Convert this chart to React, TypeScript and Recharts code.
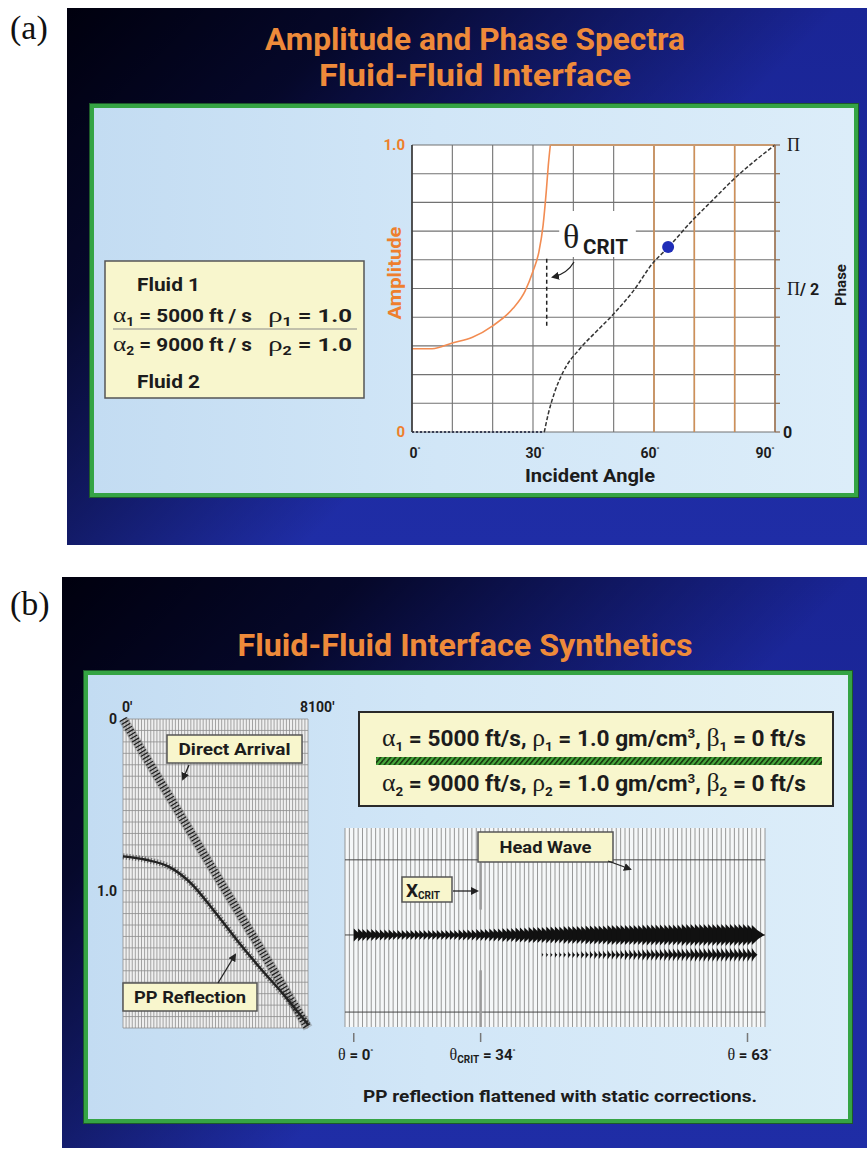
import React from "react"
import {
  ComposedChart,
  Line,
  Scatter,
  XAxis,
  YAxis,
  CartesianGrid,
  ReferenceLine,
  ReferenceArea,
} from "recharts"

const SANS = 'Roboto, "Liberation Sans", Arial, sans-serif'
const SERIF = '"Liberation Serif", "DejaVu Serif", serif'
const ORANGE = "#ee7f2d"
const INK = "#1c1c1c"

// ---------- (a) amplitude & phase vs incident angle ----------
const ampAngles = [0, 5, 10, 15, 20, 25, 28, 30, 31.5, 32.5, 33.3, 33.8, 34.3]
const ampValues = [0.29, 0.29, 0.31, 0.33, 0.37, 0.43, 0.49, 0.56, 0.63, 0.72, 0.84, 0.93, 1.0]
const totalAngles = [34.3, 90]
const totalValues = [1, 1]
const phaseFlatAngles = [0, 32.8]
const phaseFlatValues = [0, 0]
const phaseAngles = [32.8, 33.8, 35.4, 37.5, 41.6, 45.7, 49.9, 54.8, 59.8, 63.3, 69.7, 74.7, 79.7, 84.6, 90]
// phase in units of pi
const phaseValues = [0, 0.064, 0.14, 0.21, 0.29, 0.35, 0.41, 0.49, 0.59, 0.64, 0.74, 0.81, 0.88, 0.94, 1.0]
const markerAngles = [63.5]
const markerPhases = [0.645]
const critAngle = 33.4
const angleTicks = [0, 10, 20, 30, 40, 50, 60, 70, 80, 90]
const angleLabels = [0, 30, 60, 90]
const angleLabelShift = [3, 2, -4, -10]
const orangeGrid = [60, 70, 80]
const ampTicks = [0, 0.1, 0.2, 0.3, 0.4, 0.5, 0.6, 0.7, 0.8, 0.9, 1]
const phaseTickValues = [0, 0.5, 1]

// ---------- (b) left: offset / time plot ----------
const directOffset = [0, 8100]
const directTime = [0, 1.8]
const ppOffset = [0, 1000, 2000, 3000, 4000, 5000, 6000, 7000, 8100]
const ppTime = [0.8, 0.82, 0.86, 0.96, 1.12, 1.29, 1.45, 1.6, 1.78]
const offsetTicks = Array.from({ length: 61 }, (_, i) => i * 135)
const timeTicks = Array.from({ length: 28 }, (_, i) => i / 15)

// ---------- (b) right: flattened traces ----------
const reflectionT = 107.5
const headT = 127.5
const timeLines = [32, 107.5, 185]
// half-height of the filled lobe on each trace (ms)
const reflectionAmp = [
  6.5, 6.5, 6, 6, 6, 5.5, 5.5, 5.5, 5.5, 5,
  5, 5, 5, 5, 5, 5, 5, 5, 5, 5,
  5, 5, 5, 5, 5.5, 5.5, 5.5, 5.5, 6, 6,
  6, 6.5, 6.5, 6.5, 7, 7, 7, 7.5, 7.5, 7.5,
  8, 8, 8, 8, 8.5, 8.5, 8.5, 8.5, 9, 9,
  9, 9, 9, 9.5, 9.5, 9.5, 9.5, 9.5, 10, 10,
  10, 10, 10, 10, 10, 10, 10.5, 10.5, 10.5, 10.5,
  10.5, 10.5, 10.5, 10.5, 10.5, 11, 11, 11, 11, 11,
  11, 11, 11, 11, 11, 11, 11, 11, 11, 11,
  10.5, 10,
]
const headStart = 43
const headAmp = [
  2, 2.5, 2.5, 3, 3, 3, 3.5, 3.5, 3.5, 4,
  4, 4, 4.5, 4.5, 4.5, 5, 5, 5, 5, 5.5,
  5.5, 5.5, 5.5, 6, 6, 6, 6, 6, 6.5, 6.5,
  6.5, 6.5, 6.5, 6.5, 7, 7, 7, 7, 7, 7,
  7, 7, 7, 7, 7, 7, 7, 7, 7,
]
const traceTicks = Array.from({ length: 95 }, (_, i) => i - 1)
const thetaTraces = [0, 29, 90]
const thetaNames = ["0", "34", "63"]

const zip = (xs: number[], ys: number[], kx: string, ky: string) =>
  xs.map((x, i) => ({ [kx]: x, [ky]: ys[i] }))

const ampData = zip(ampAngles, ampValues, "angle", "amp")
const totalData = zip(totalAngles, totalValues, "angle", "amp")
const phaseFlatData = zip(phaseFlatAngles, phaseFlatValues, "angle", "phase")
const phaseData = zip(phaseAngles, phaseValues, "angle", "phase")
const markerData = zip(markerAngles, markerPhases, "angle", "phase")
const directData = zip(directOffset, directTime, "ft", "t")
const ppData = zip(ppOffset, ppTime, "ft", "t")
const reflectionData = reflectionAmp.map((a, i) => ({ trace: i, t: reflectionT, amp: a, w: 1.3 }))
const headData = headAmp.map((a, i) => ({ trace: headStart + i, t: headT, amp: a, w: 0.8 }))

const bold = (size: number) => ({ fontFamily: SANS, fontWeight: 700, fontSize: size })
const greek = (size: number) => ({ fontFamily: SERIF, fontWeight: 400, fontSize: size })

function AngleTick(props: any) {
  const { x, y, payload } = props
  const k = angleLabels.indexOf(payload.value)
  if (k < 0) return <g />
  return (
    <text x={x + angleLabelShift[k]} y={y + 26} textAnchor="middle" fill={INK} style={bold(14)}>
      {payload.value}
      <tspan fontSize={8} dy={-6}>°</tspan>
    </text>
  )
}

function AmpTick(props: any) {
  const { x, y, payload } = props
  const v = payload.value
  const label = v === 0 ? "0" : Math.abs(v - 1) < 1e-6 ? "1.0" : ""
  if (!label) return <g />
  return (
    <text x={x - 7} y={y + 5} textAnchor="end" fill={ORANGE} style={bold(15)}>
      {label}
    </text>
  )
}

function PhaseTick(props: any) {
  const { x, y, payload } = props
  const k = phaseTickValues.findIndex((p) => Math.abs(p - payload.value) < 1e-6)
  return (
    <g>
      <line x1={x} y1={y} x2={x + 5} y2={y} stroke="#8a6a50" strokeWidth={1.2} />
      {k === 0 && (
        <text x={x + 8} y={y + 6} fill={INK} style={bold(16)}>0</text>
      )}
      {k === 1 && (
        <text x={x + 12} y={y + 6} fill={INK} style={bold(16)}>
          <tspan style={greek(18)}>Π</tspan>/ 2
        </text>
      )}
      {k === 2 && (
        <text x={x + 12} y={y + 6} fill={INK} style={greek(18)}>Π</text>
      )}
    </g>
  )
}

function OffsetTick(props: any) {
  const { x, y, payload } = props
  if (payload.value === 0)
    return <text x={x - 1} y={y - 7} fill={INK} style={bold(14)}>0'</text>
  if (payload.value === 8100)
    return <text x={x - 8} y={y - 7} fill={INK} style={bold(14)}>8100'</text>
  return <g />
}

function TimeTick(props: any) {
  const { x, y, payload } = props
  const v = payload.value
  const label = v === 0 ? "0" : Math.abs(v - 1) < 1e-6 ? "1.0" : ""
  if (!label) return <g />
  return (
    <text x={x - 6} y={y + 5} textAnchor="end" fill={INK} style={bold(14)}>
      {label}
    </text>
  )
}

function ThetaTick(props: any) {
  const { x, y, payload } = props
  const k = thetaTraces.indexOf(payload.value)
  if (k < 0) return <g />
  return (
    <g>
      <line x1={x} y1={y + 6} x2={x} y2={y + 15} stroke="#777" strokeWidth={1.5} />
      <text x={x + 2} y={y + 33} textAnchor="middle" fill={INK} style={bold(15)}>
        <tspan style={greek(16)}>θ</tspan>
        {k === 1 && <tspan fontSize={10} dy={3}>CRIT</tspan>}
        <tspan dy={k === 1 ? -3 : 0}>{` = ${thetaNames[k]}`}</tspan>
        <tspan fontSize={8} dy={-6}>°</tspan>
      </text>
    </g>
  )
}

function BlueDot(props: any) {
  return <circle cx={props.cx} cy={props.cy} r={6} fill="#1f2db8" />
}

// the y axis of the trace plot maps about one ms per pixel
const PX_PER_MS = 0.995

function Lobe(props: any) {
  const { cx, cy, payload } = props
  const h = payload.amp * PX_PER_MS
  const w = h * payload.w
  return <path d={`M${cx},${cy - h} Q${cx + w * 0.45},${cy - h * 0.35} ${cx + w},${cy} Q${cx + w * 0.45},${cy + h * 0.35} ${cx},${cy + h} Z`} fill="#111" />
}

const slideBg =
  "linear-gradient(135deg, rgba(0,0,14,1) 0%, rgba(0,0,14,0.8) 22%, rgba(0,0,14,0) 58%), linear-gradient(180deg, #1a2596 0%, #1f2da6 100%)"
const innerBg = "linear-gradient(90deg, #c3dcf2 0%, #d1e6f7 45%, #dcedf9 100%)"

function Box({ x, y, w, h }: { x: number; y: number; w: number; h: number }) {
  return <rect x={x} y={y} width={w} height={h} fill="#f8f6cd" stroke="#555" strokeWidth={1.5} />
}

function EquationLine({ y, n, speed }: { y: number; n: string; speed: string }) {
  return (
    <text x={382} y={y} textLength={424} lengthAdjust="spacingAndGlyphs" fill={INK} style={bold(22)}>
      <tspan style={greek(25)}>α</tspan>
      <tspan fontSize={13} dy={5}>{n}</tspan>
      <tspan dy={-5}>{` = ${speed} ft/s, `}</tspan>
      <tspan style={greek(25)}>ρ</tspan>
      <tspan fontSize={13} dy={5}>{n}</tspan>
      <tspan dy={-5}> = 1.0 gm/cm</tspan>
      <tspan fontSize={13} dy={-8}>3</tspan>
      <tspan dy={8}>, </tspan>
      <tspan style={greek(25)}>β</tspan>
      <tspan fontSize={13} dy={5}>{n}</tspan>
      <tspan dy={-5}> = 0 ft/s</tspan>
    </text>
  )
}

function FluidLine({ y, n, speed }: { y: number; n: string; speed: string }) {
  return (
    <g>
      <text x={113} y={y} textLength={139} lengthAdjust="spacingAndGlyphs" fill={INK} style={bold(18)}>
        <tspan style={greek(22)}>α</tspan>
        <tspan fontSize={12} dy={4}>{n}</tspan>
        <tspan dy={-4}>{` = ${speed} ft / s`}</tspan>
      </text>
      <text x={268} y={y} textLength={84} lengthAdjust="spacingAndGlyphs" fill={INK} style={bold(18)}>
        <tspan style={greek(22)}>ρ</tspan>
        <tspan fontSize={12} dy={4}>{n}</tspan>
        <tspan dy={-4}> = 1.0</tspan>
      </text>
    </g>
  )
}

export default function App() {
  return (
    <div style={{ position: "absolute", left: 0, top: 0, width: 867, height: 1152, background: "#fff", overflow: "hidden" }}>
      {/* slides */}
      <div style={{ position: "absolute", left: 67, top: 8, width: 800, height: 537, background: slideBg }} />
      <div style={{ position: "absolute", left: 62, top: 577, width: 805, height: 571, background: slideBg }} />
      <div
        style={{
          position: "absolute", left: 90, top: 104, width: 760, height: 385,
          background: innerBg, border: "4px solid #35a444", boxShadow: "0 0 0 1px #1d5a2a",
        }}
      />
      <div
        style={{
          position: "absolute", left: 84, top: 671, width: 760, height: 444,
          background: innerBg, border: "4px solid #35a444", boxShadow: "0 0 0 1px #1d5a2a",
        }}
      />

      {/* (a) chart */}
      <div style={{ position: "absolute", left: 360, top: 125 }}>
        <ComposedChart width={500} height={370} margin={{ top: 20, right: 25, bottom: 8, left: 12 }}>
          <CartesianGrid yAxisId="amp" stroke="#727272" strokeWidth={1.1} fill="#ffffff" />
          <XAxis
            type="number" dataKey="angle" domain={[0, 90]} ticks={angleTicks} interval={0} height={55}
            axisLine={false} tickLine={false} tickSize={0} tickMargin={0} tick={AngleTick}
          />
          <YAxis
            yAxisId="amp" type="number" dataKey="amp" domain={[0, 1]} ticks={ampTicks} interval={0} width={40}
            axisLine={{ stroke: "#333", strokeWidth: 1.5 }} tickLine={false} tickSize={0} tickMargin={0} tick={AmpTick}
          />
          <YAxis
            yAxisId="phase" orientation="right" type="number" dataKey="phase" domain={[0, 1]} ticks={ampTicks}
            interval={0} width={60} axisLine={{ stroke: "#a87a55", strokeWidth: 1.5 }} tickLine={false}
            tickSize={0} tickMargin={0} tick={PhaseTick}
          />
          {orangeGrid.map((a) => (
            <ReferenceLine key={a} yAxisId="amp" x={a} stroke="#cf9058" strokeWidth={1.6} />
          ))}
          <ReferenceArea yAxisId="amp" x1={36.5} x2={55.5} y1={0.61} y2={0.77} fill="#ffffff" fillOpacity={1} stroke="none" />
          <ReferenceLine
            yAxisId="amp" segment={[{ x: critAngle, y: 0.37 }, { x: critAngle, y: 0.61 }]}
            stroke="#222" strokeDasharray="4 3" strokeWidth={1.5}
          />
          <Line data={ampData} yAxisId="amp" dataKey="amp" type="monotone" stroke="#f28c52" strokeWidth={1.6} dot={false} isAnimationActive={false} />
          <Line data={totalData} yAxisId="amp" dataKey="amp" type="linear" stroke="#c99a70" strokeWidth={1.8} dot={false} isAnimationActive={false} />
          <Line data={phaseFlatData} yAxisId="phase" dataKey="phase" type="linear" stroke="#3a3f55" strokeDasharray="2 2" strokeWidth={2} dot={false} isAnimationActive={false} />
          <Line data={phaseData} yAxisId="phase" dataKey="phase" type="monotone" stroke="#333" strokeDasharray="4 2" strokeWidth={1.5} dot={false} isAnimationActive={false} />
          <Scatter data={markerData} yAxisId="phase" dataKey="phase" shape={BlueDot} isAnimationActive={false} />
        </ComposedChart>
      </div>

      {/* (b) left chart */}
      <div style={{ position: "absolute", left: 95, top: 690 }}>
        <ComposedChart width={262} height={350} margin={{ top: 4, right: 49, bottom: 12, left: 3 }}>
          <CartesianGrid stroke="#8e8e8e" strokeWidth={0.8} fill="#efefef" />
          <XAxis
            orientation="top" type="number" dataKey="ft" domain={[0, 8100]} ticks={offsetTicks} interval={0}
            height={25} axisLine={false} tickLine={false} tickSize={0} tickMargin={0} tick={OffsetTick}
          />
          <YAxis
            type="number" dataKey="t" domain={[0, 1.8]} reversed ticks={timeTicks} interval={0} width={25}
            axisLine={false} tickLine={false} tickSize={0} tickMargin={0} tick={TimeTick}
          />
          <Line data={directData} dataKey="t" type="linear" stroke="#666" strokeOpacity={0.35} strokeWidth={10} dot={false} isAnimationActive={false} />
          <Line data={directData} dataKey="t" type="linear" stroke="#1e1e1e" strokeWidth={8} strokeDasharray="1.2 2.2" dot={false} isAnimationActive={false} />
          <Line data={ppData} dataKey="t" type="monotone" stroke="#333" strokeOpacity={0.6} strokeWidth={6} strokeDasharray="1.3 1.8" dot={false} isAnimationActive={false} />
          <Line data={ppData} dataKey="t" type="monotone" stroke="#222" strokeWidth={2.4} dot={false} isAnimationActive={false} />
        </ComposedChart>
      </div>

      {/* (b) right chart */}
      <div style={{ position: "absolute", left: 335, top: 820 }}>
        <ComposedChart width={440} height={250} margin={{ top: 8, right: 10, bottom: 13, left: 10 }}>
          <CartesianGrid horizontal={false} stroke="#8c8c8c" strokeWidth={0.9} fill="#f5f7f8" />
          <XAxis
            type="number" dataKey="trace" domain={[-2, 94]} ticks={traceTicks} interval={0} height={30}
            axisLine={false} tickLine={false} tickSize={0} tickMargin={0} tick={ThetaTick}
          />
          <YAxis type="number" dataKey="t" domain={[0, 200]} reversed hide />
          {timeLines.map((t) => (
            <ReferenceLine key={t} y={t} stroke="#444" strokeWidth={1} />
          ))}
          <ReferenceLine segment={[{ x: 29, y: 35 }, { x: 29, y: 82 }]} stroke="#9a9a9a" strokeWidth={2.5} />
          <ReferenceLine segment={[{ x: 29, y: 143 }, { x: 29, y: 200 }]} stroke="#9a9a9a" strokeWidth={2.5} />
          <Scatter data={reflectionData} dataKey="t" shape={Lobe} isAnimationActive={false} />
          <Scatter data={headData} dataKey="t" shape={Lobe} isAnimationActive={false} />
        </ComposedChart>
      </div>

      {/* annotations */}
      <svg width={867} height={1152} style={{ position: "absolute", left: 0, top: 0, pointerEvents: "none" }}>
        <defs>
          <marker id="ah" markerWidth="8" markerHeight="8" refX="6" refY="4" orient="auto" markerUnits="userSpaceOnUse">
            <path d="M0,0 L8,4 L0,8 z" fill="#222" />
          </marker>
          <pattern id="hatch" width="5" height="8" patternUnits="userSpaceOnUse" patternTransform="skewX(-40)">
            <rect width="5" height="8" fill="#45a83a" />
            <rect width="2.2" height="8" fill="#1b3a12" />
          </pattern>
        </defs>

        <text x={10} y={39} style={{ fontFamily: SERIF, fontSize: 34 }} fill="#111">(a)</text>
        <text x={10} y={615} style={{ fontFamily: SERIF, fontSize: 34 }} fill="#111">(b)</text>

        <text x={475} y={50} textAnchor="middle" textLength={420} lengthAdjust="spacingAndGlyphs" fill="#ee8a3a" style={bold(31)}>
          Amplitude and Phase Spectra
        </text>
        <text x={475} y={86} textAnchor="middle" textLength={312} lengthAdjust="spacingAndGlyphs" fill="#ee8a3a" style={bold(31)}>
          Fluid-Fluid Interface
        </text>
        <text x={465} y={656} textAnchor="middle" textLength={455} lengthAdjust="spacingAndGlyphs" fill="#ee8a3a" style={bold(31)}>
          Fluid-Fluid Interface Synthetics
        </text>

        {/* (a) axis titles */}
        <text transform="translate(401,273) rotate(-90)" textAnchor="middle" textLength={93} lengthAdjust="spacingAndGlyphs" fill={ORANGE} style={bold(18)}>Amplitude</text>
        <text transform="translate(846,285) rotate(-90)" textAnchor="middle" fill={INK} style={bold(15)}>Phase</text>
        <text x={590} y={482} textAnchor="middle" textLength={130} lengthAdjust="spacingAndGlyphs" fill={INK} style={bold(18)}>Incident Angle</text>

        {/* theta crit label */}
        <text x={563} y={248} fill={INK} style={{ fontFamily: SERIF, fontSize: 34 }}>θ</text>
        <text x={583} y={254} textLength={45} lengthAdjust="spacingAndGlyphs" fill={INK} style={bold(20)}>CRIT</text>
        <path d="M574,262 Q567,274 553,277" fill="none" stroke="#222" strokeWidth={1.3} markerEnd="url(#ah)" />

        {/* fluid box */}
        <Box x={105} y={261} w={259} h={137} />
        <text x={137} y={291} textLength={63} lengthAdjust="spacingAndGlyphs" fill={INK} style={bold(18)}>Fluid 1</text>
        <FluidLine y={322} n="1" speed="5000" />
        <line x1={113} y1={329} x2={357} y2={329} stroke="#8a8a8a" strokeWidth={1.2} />
        <FluidLine y={351} n="2" speed="9000" />
        <text x={137} y={388} textLength={63} lengthAdjust="spacingAndGlyphs" fill={INK} style={bold(18)}>Fluid 2</text>

        {/* (b) equation box */}
        <rect x={359} y={712} width={474} height={94} fill="#f8f6cd" stroke="#2a2a2a" strokeWidth={2} />
        <EquationLine y={746} n="1" speed="5000" />
        <rect x={376} y={757} width={446} height={8} fill="url(#hatch)" />
        <EquationLine y={791} n="2" speed="9000" />

        {/* (b) left labels */}
        <Box x={167} y={735} w={135} h={28} />
        <text x={234.5} y={755} textAnchor="middle" textLength={112} lengthAdjust="spacingAndGlyphs" fill={INK} style={bold(17)}>Direct Arrival</text>
        <line x1={189} y1={765} x2={183} y2={779} stroke="#222" strokeWidth={1.3} markerEnd="url(#ah)" />
        <Box x={123} y={983} w={134} h={28} />
        <text x={190} y={1003} textAnchor="middle" textLength={112} lengthAdjust="spacingAndGlyphs" fill={INK} style={bold(17)}>PP Reflection</text>
        <line x1={218} y1={983} x2={235} y2={955} stroke="#222" strokeWidth={1.3} markerEnd="url(#ah)" />

        {/* (b) right labels */}
        <Box x={478} y={832} w={135} h={30} />
        <text x={545.5} y={853} textAnchor="middle" textLength={92} lengthAdjust="spacingAndGlyphs" fill={INK} style={bold(17)}>Head Wave</text>
        <line x1={608} y1={861} x2={630} y2={869} stroke="#222" strokeWidth={1.3} markerEnd="url(#ah)" />
        <Box x={402} y={877} w={50} h={25} />
        <text x={406} y={897} fill={INK} style={bold(19)}>
          X<tspan fontSize={10} dy={2}>CRIT</tspan>
        </text>
        <line x1={453} y1={891} x2={477} y2={891} stroke="#222" strokeWidth={1.3} markerEnd="url(#ah)" />

        <text x={560} y={1102} textAnchor="middle" textLength={394} lengthAdjust="spacingAndGlyphs" fill={INK} style={bold(17)}>
          PP reflection flattened with static corrections.
        </text>
      </svg>
    </div>
  )
}
